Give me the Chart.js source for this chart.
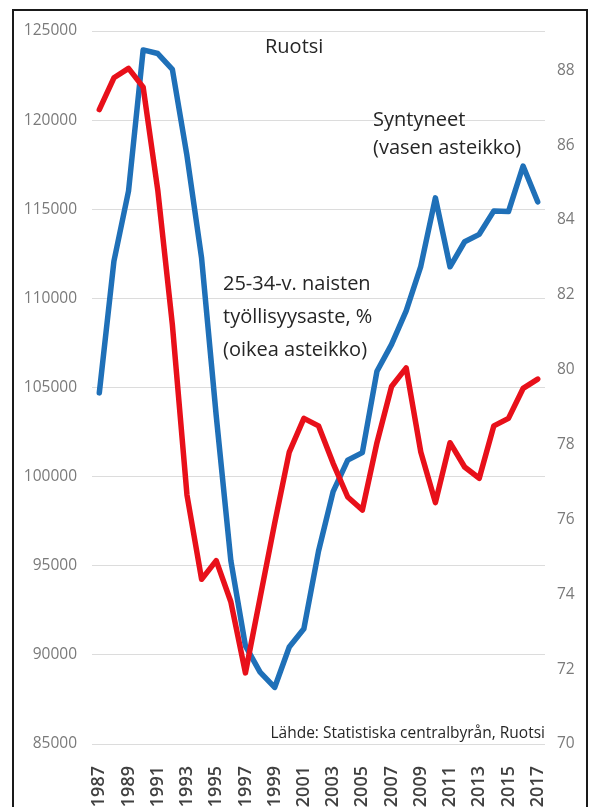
<!DOCTYPE html>
<html>
<head>
<meta charset="utf-8">
<script src="https://cdn.jsdelivr.net/npm/chart.js@4.4.1/dist/chart.umd.min.js"></script>
<style>
  html, body { margin: 0; padding: 0; background: #ffffff; }
  #wrap { position: relative; width: 595px; height: 807px; }
  canvas { position: absolute; left: 0; top: 0; }
</style>
</head>
<body>
<div id="wrap"><canvas id="chart" width="595" height="807"></canvas></div>
<script>
// Vuodet 1987–2017
const years = ['1987','1988','1989','1990','1991','1992','1993','1994','1995','1996',
  '1997','1998','1999','2000','2001','2002','2003','2004','2005','2006',
  '2007','2008','2009','2010','2011','2012','2013','2014','2015','2016','2017'];

// Syntyneet (vasen asteikko)
const births = [104699, 112080, 116023, 123938, 123737, 122848, 117998, 112257, 103422, 95297,
  90502, 89028, 88173, 90441, 91466, 95815, 99157, 100928, 101346, 105913,
  107421, 109301, 111801, 115641, 111770, 113177, 113593, 114907, 114870, 117425, 115416];

// 25-34-v. naisten työllisyysaste, % (oikea asteikko)
const employment = [86.95, 87.8, 88.05, 87.55, 84.8, 81.2, 76.65, 74.4, 74.9, 73.8,
  71.9, 73.9, 75.9, 77.8, 78.7, 78.5, 77.5, 76.6, 76.25, 78.05,
  79.55, 80.05, 77.8, 76.45, 78.05, 77.4, 77.1, 78.5, 78.7, 79.5, 79.75];

// Akseleiden rajat
const leftAxis = { min: 85000, max: 125000, step: 5000 };
const rightAxis = { min: 70, max: 89.05, step: 2 };

const annotations = [
  { lines: ['Ruotsi'], x: 265, y: 47, lineHeight: 0 },
  { lines: ['Syntyneet', '(vasen asteikko)'], x: 373, y: 120, lineHeight: 28 },
  { lines: ['25-34-v. naisten', 'työllisyysaste, %', '(oikea asteikko)'], x: 223, y: 284, lineHeight: 33 }
];
const sourceText = 'Lähde: Statistiska centralbyrån, Ruotsi';

const FONT = '"Open Sans", "DejaVu Sans", sans-serif';

const textPlugin = {
  id: 'texts',
  afterDraw(chart) {
    const ctx = chart.ctx;
    ctx.save();
    ctx.fillStyle = '#262626';
    ctx.textBaseline = 'middle';
    ctx.textAlign = 'left';
    ctx.font = '20px ' + FONT;
    annotations.forEach(a => {
      a.lines.forEach((t, i) => ctx.fillText(t, a.x, a.y + i * a.lineHeight));
    });
    ctx.font = '15.5px ' + FONT;
    ctx.textAlign = 'right';
    ctx.fillText(sourceText, 545, 734);
    // kehys
    ctx.strokeStyle = '#1a1a1a';
    ctx.lineWidth = 2;
    ctx.strokeRect(13, 10, 574, 820);
    ctx.restore();
  }
};

new Chart(document.getElementById('chart'), {
  type: 'line',
  data: {
    labels: years,
    datasets: [
      {
        label: 'Syntyneet',
        data: births,
        yAxisID: 'y',
        borderColor: '#1f70b8',
        borderWidth: 5.5,
        pointRadius: 0,
        tension: 0,
        borderJoinStyle: 'round',
        borderCapStyle: 'round',
        order: 1
      },
      {
        label: '25-34-v. naisten työllisyysaste, %',
        data: employment,
        yAxisID: 'y1',
        borderColor: '#e8101a',
        borderWidth: 5.5,
        pointRadius: 0,
        tension: 0,
        borderJoinStyle: 'round',
        borderCapStyle: 'round',
        order: 0
      }
    ]
  },
  options: {
    responsive: false,
    animation: false,
    devicePixelRatio: 1,
    layout: { padding: { top: 31, left: 0, right: 0, bottom: 0 } },
    plugins: { legend: { display: false }, tooltip: { enabled: false } },
    scales: {
      x: {
        type: 'category',
        offset: true,
        grid: { display: false },
        border: { display: false },
        ticks: {
          autoSkip: false,
          minRotation: 90,
          maxRotation: 90,
          padding: 14,
          color: '#404040',
          font: { family: FONT, size: 18, weight: '600' },
          callback: (v, i) => (i % 2 === 0 ? years[i] : '')
        },
        afterFit: s => { s.height = 63; }
      },
      y: {
        position: 'left',
        min: leftAxis.min,
        max: leftAxis.max,
        grid: { color: '#dcdcdc', lineWidth: 1, drawTicks: false },
        border: { display: false },
        ticks: {
          stepSize: leftAxis.step,
          padding: 15,
          color: '#7a7a7a',
          font: { family: FONT, size: 15.5 },
          callback: v => String(v)
        },
        afterFit: s => { s.width = 92; }
      },
      y1: {
        position: 'right',
        min: rightAxis.min,
        max: rightAxis.max,
        grid: { display: false, drawTicks: false },
        border: { display: false },
        ticks: {
          stepSize: rightAxis.step,
          includeBounds: false,
          padding: 12,
          color: '#7a7a7a',
          font: { family: FONT, size: 15.5 },
          callback: v => String(v)
        },
        afterFit: s => { s.width = 50; }
      }
    }
  },
  plugins: [textPlugin]
});
</script>
</body>
</html>
